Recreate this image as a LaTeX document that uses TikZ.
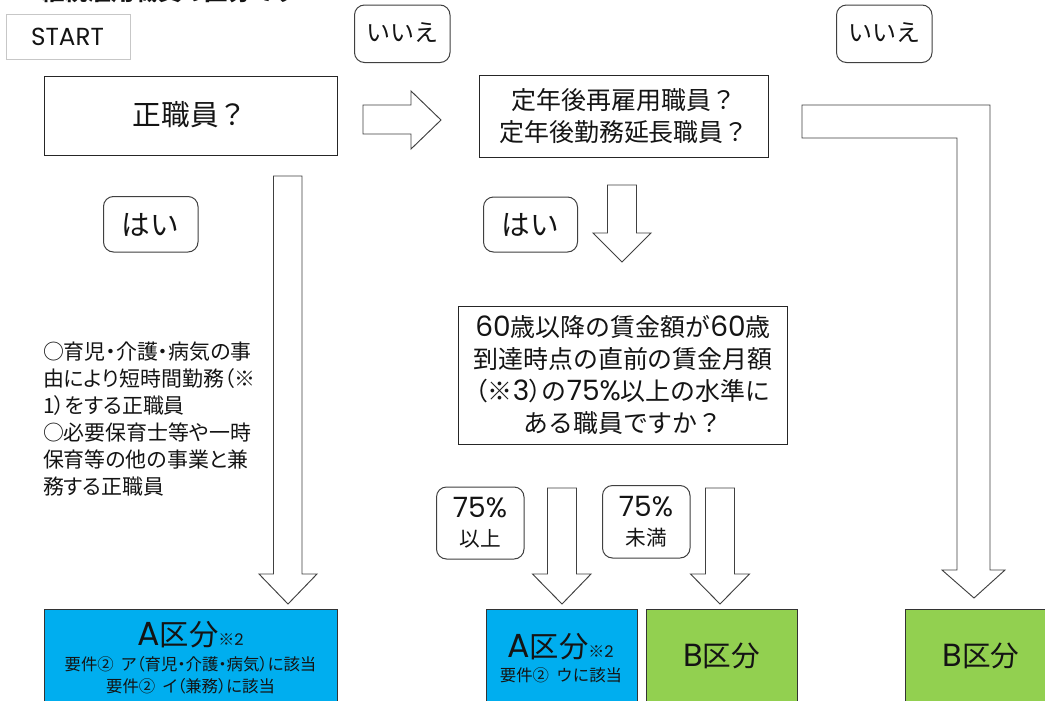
\documentclass[tikz,border=0pt]{standalone}
\usepackage{fontspec}
\setmainfont{Noto Sans CJK JP}
\newfontfamily\pf[RawFeature={+palt}]{Noto Sans CJK JP}
\newfontfamily\lat{Poppins}
\newcommand{\fs}[2]{\fontsize{#1}{#2}\selectfont}
\newcommand{\dg}[1]{{\lat\fontsize{21}{24}\selectfont #1}}
\tikzset{
  x=0.75pt,y=-0.75pt,
  every node/.style={inner sep=0pt,outer sep=0pt,text=black!92,align=center},
  sq/.style={draw=black!85,line width=0.75pt,fill=white},
  tag/.style={draw=black!75,line width=0.75pt,fill=white,rounded corners=7.5pt},
  blockarrow/.style={draw=black!75,line width=0.7pt,fill=white,line join=miter},
  bluebox/.style={draw=black!80,line width=0.75pt,fill=cyanbox},
  greenbox/.style={draw=black!80,line width=0.75pt,fill=greenbox},
}
\definecolor{cyanbox}{HTML}{00AEEF}
\definecolor{greenbox}{HTML}{92D050}
\begin{document}
\begin{tikzpicture}
\path[use as bounding box] (0,0) rectangle (1045,700);
\clip (0,0) rectangle (1045,700);
\fill[white] (0,0) rectangle (1045,700);
% cropped heading
\node[anchor=base west,font=\bfseries\fs{17.5}{22}] (head) at (18,0) {※継続雇用職員の区分です};
% boxes
\draw[draw=black!22,line width=0.75pt,fill=white] (6.5,14) rectangle (130,59);
\node[font=\lat\fs{18.5}{22}] (start) at (67.5,36.5) {START};
\draw[sq] (44,76) rectangle (337,155);
\node[font=\fs{21.5}{24}] (seishoku) at (190,115) {正職員？};
\draw[sq] (479.5,75.5) rectangle (768.5,157.5);
\node[font=\fs{18.7}{24}] (teinen) at (624,116.5) {定年後再雇用職員？\\定年後勤務延長職員？};
\draw[sq] (458.5,306) rectangle (787,444);
\node[font=\fs{18.7}{24}] (chingin) at (623,375) {\dg{60}歳以降の賃金額が\dg{60}歳\\到達時点の直前の賃金月額\\{\pf（※\dg{3}）}の\dg{75\%}以上の水準に\\ある職員ですか？};
% tags
\draw[tag] (354.5,5) rectangle (450,62.5);
\node[font=\fs{18}{22}] (iie1) at (402,33) {いいえ};
\draw[tag] (836.5,5) rectangle (932,62.5);
\node[font=\fs{18}{22}] (iie2) at (884,33) {いいえ};
\draw[tag] (103.5,196.5) rectangle (198,252);
\node[font=\fs{21.5}{24}] (hai1) at (150.5,225) {はい};
\draw[tag] (483.5,197) rectangle (577.5,252);
\node[font=\fs{21.5}{24}] (hai2) at (530.5,225) {はい};
\draw[tag] (436.5,487) rectangle (524,559);
\node[font=\fs{18}{22}] (ijo) at (480,523) {\dg{75\%}\\{\fs{15.5}{20}以上}};
\draw[tag] (602.5,485.5) rectangle (690,558);
\node[font=\fs{18}{22}] (miman) at (646,522) {\dg{75\%}\\{\fs{15.5}{20}未満}};
% left note
\node[anchor=north west,align=left,font=\pf\fs{15.7}{20.25}] (note) at (43,342) {○育児・介護・病気の事\\由により短時間勤務（※\\1）をする正職員\\○必要保育士等や一時\\保育等の他の事業と兼\\務する正職員};
% block arrows
\draw[blockarrow] (363,105) -- (411,105) -- (411,91) -- (441,120) -- (411,149) -- (411,134) -- (363,134) -- cycle;
\draw[blockarrow] (273.5,176) -- (302,176) -- (302,574) -- (317,574) -- (288,604) -- (259,574) -- (273.5,574) -- cycle;
\draw[blockarrow] (607.5,185) -- (636.5,185) -- (636.5,233) -- (651,233) -- (622,262) -- (593,233) -- (607.5,233) -- cycle;
\draw[blockarrow] (547.5,488) -- (576.5,488) -- (576.5,574) -- (591,574) -- (562,604) -- (532.5,574) -- (547.5,574) -- cycle;
\draw[blockarrow] (705.5,488) -- (734.5,488) -- (734.5,574) -- (749.5,574) -- (720,604) -- (690.5,574) -- (705.5,574) -- cycle;
\draw[blockarrow] (802,105) -- (990,105) -- (990,570) -- (1005,570) -- (974,598) -- (942,570) -- (957,570) -- (957,138) -- (802,138) -- cycle;
% result boxes
\draw[bluebox] (44,609) rectangle (337,710);
\node[font=\fs{22}{26}] (a1) at (190.5,635) {{\lat\fs{25}{26}A}区分{\fs{12}{14}※{\lat 2}}};
\node[font=\pf\fs{12.3}{16.5}] (a1sub) at (190.5,675) {要件②\ \ ア（育児・介護・病気）に該当\\要件②\ \ イ（兼務）に該当};
\draw[bluebox] (486,609) rectangle (637,710);
\node[font=\fs{22}{26}] (a2) at (560.5,647) {{\lat\fs{25}{26}A}区分{\fs{12}{14}※{\lat 2}}};
\node[font=\fs{12.3}{14}] (a2sub) at (561,675) {要件②\ \ ウに該当};
\draw[greenbox] (646,609) rectangle (797,710);
\node[font=\fs{21.5}{24}] (b1) at (721.5,656) {{\lat\fs{24}{24}B}区分};
\draw[greenbox] (905,609) rectangle (1060,710);
\node[font=\fs{21.5}{24}] (b2) at (981,656) {{\lat\fs{24}{24}B}区分};
\end{tikzpicture}
\end{document}
